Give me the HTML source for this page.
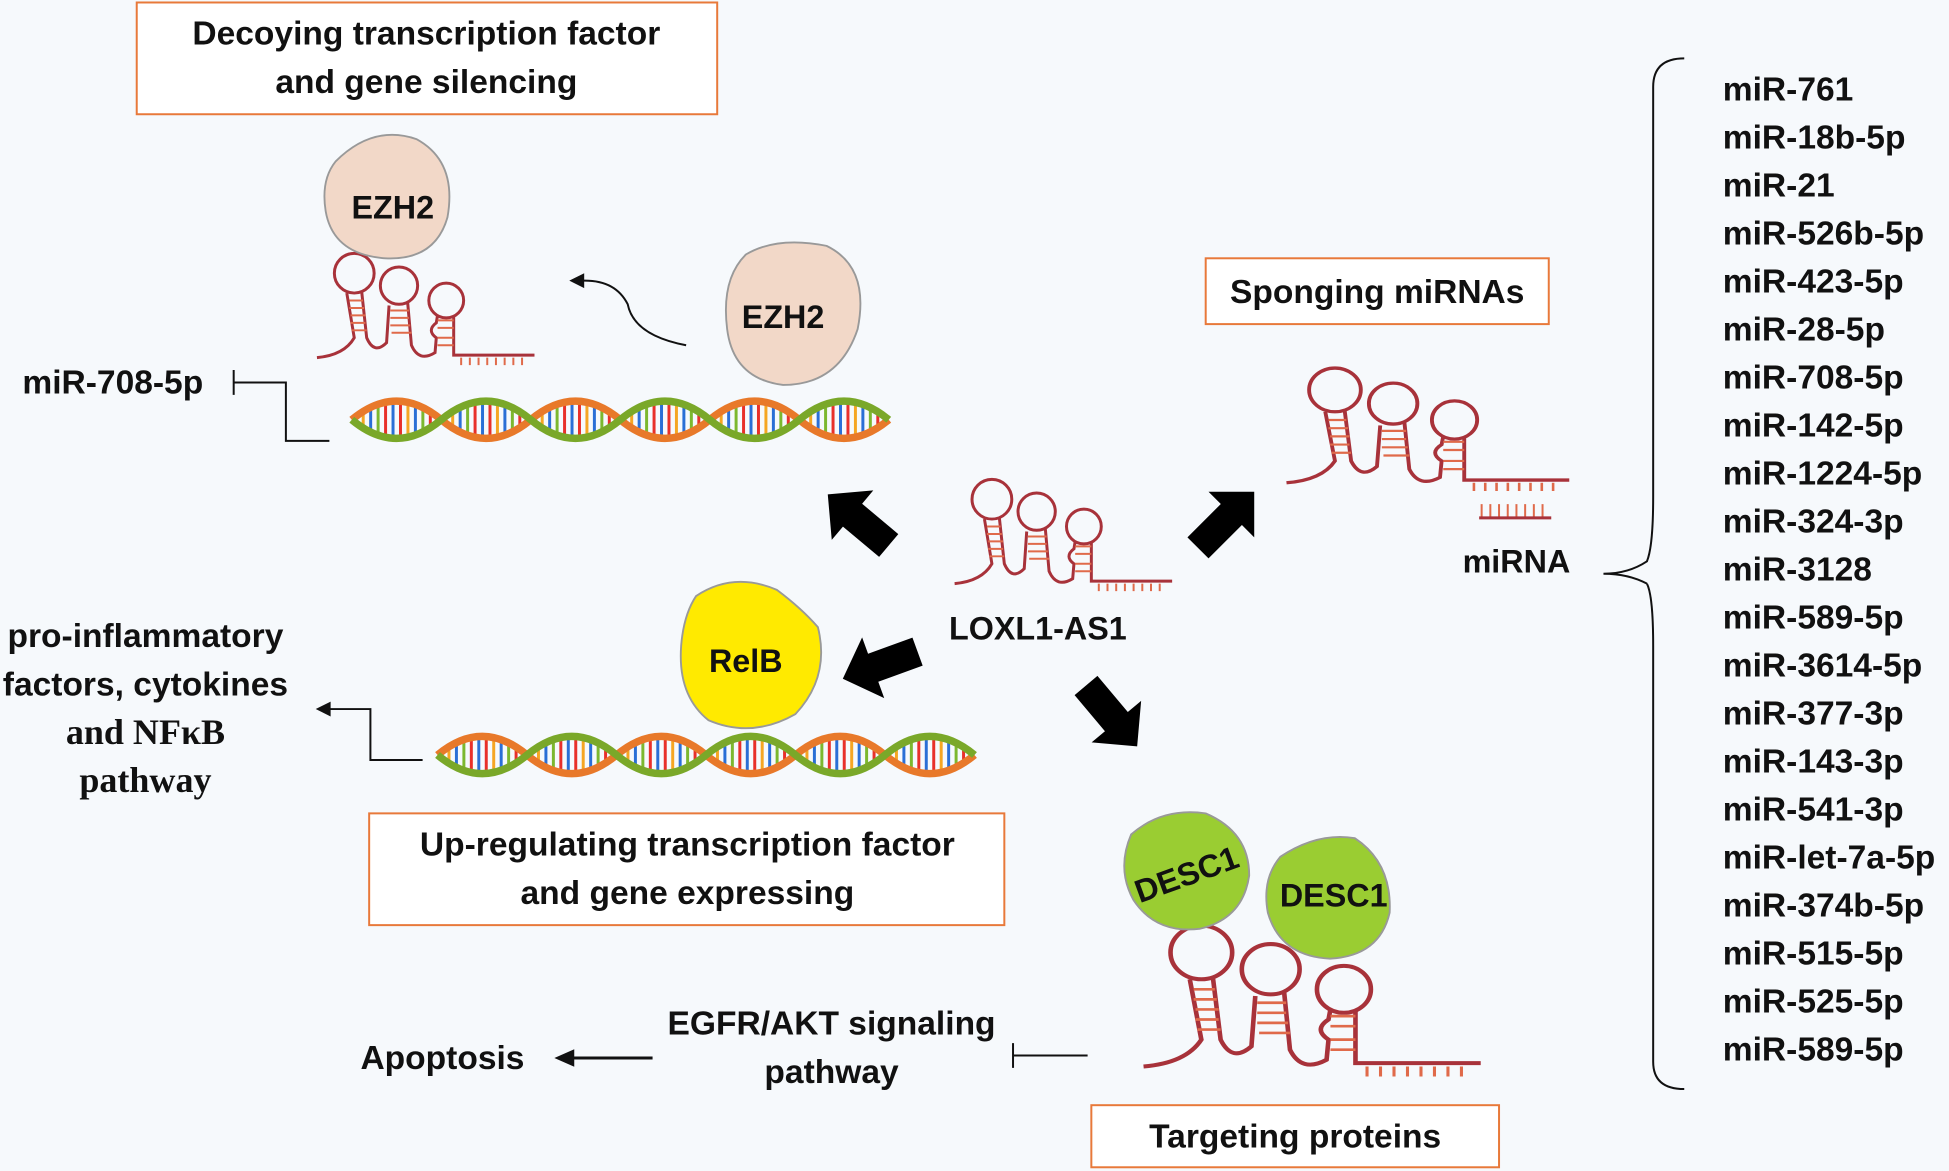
<!DOCTYPE html>
<html><head><meta charset="utf-8">
<style>
html,body{margin:0;padding:0;background:#f6f9fc;}
svg{display:block;}
text{font-family:"Liberation Sans",sans-serif;font-weight:bold;fill:#111;}
.serif{font-family:"Liberation Serif",serif;}
</style></head><body>
<svg id="s" width="1949" height="1171" viewBox="0 0 1568 943" preserveAspectRatio="none" xmlns="http://www.w3.org/2000/svg">
<defs>
<g id="rna" fill="none" stroke="#a8323a" stroke-width="2.4">
  <path d="M0,88 Q22,86 30,72 L24,36"/>
  <circle cx="30" cy="20" r="16"/>
  <path d="M36,35 L40,72 Q46,86 56,76 L58,46"/>
  <circle cx="66" cy="30" r="15"/>
  <path d="M73,44 L76,78 Q82,92 95,84 L96,72 Q88,66 96,60 L97,54"/>
  <circle cx="104" cy="42" r="14"/>
  <path d="M110,55 L110,86 L175,86"/>
  <g stroke="#e06a4a" stroke-width="1.6">
    <path d="M26,42h11M26,48h12M27,54h12M27,60h12M28,66h12"/>
    <path d="M59,50h15M59,56h15M59,62h16M60,68h16"/>
    <path d="M97,58h13M97,64h13M97,72h13M97,78h13"/>
    <path d="M116,88v6M123,88v6M130,88v6M137,88v6M144,88v6M151,88v6M158,88v6M165,88v6"/>
  </g>
</g>
<polygon id="barrow" points="-30,-12 8,-12 8,-26 34,0 8,26 8,12 -30,12" fill="#000"/>
<pattern id="rungs" patternUnits="userSpaceOnUse" width="36" height="80" y="-40">
  <rect x="2" y="0" width="2.4" height="80" fill="#e8302a"/>
  <rect x="8" y="0" width="2.4" height="80" fill="#f5a623"/>
  <rect x="14" y="0" width="2.4" height="80" fill="#2a6fd6"/>
  <rect x="20" y="0" width="2.4" height="80" fill="#7cb82f"/>
  <rect x="26" y="0" width="2.4" height="80" fill="#e8302a"/>
  <rect x="32" y="0" width="2.4" height="80" fill="#2a6fd6"/>
</pattern>
<clipPath id="lens">
  <path d="M0,0 Q36,-30 72,0 T144,0 T216,0 T288,0 T360,0 T432,0 Q396,-30 360,0 T288,0 T216,0 T144,0 T72,0 T0,0 Z"/>
</clipPath>
<g id="dna">
  <rect x="0" y="-40" width="432" height="80" fill="url(#rungs)" clip-path="url(#lens)"/>
  <path d="M0,0 Q36,-30 72,0 T144,0 T216,0 T288,0 T360,0 T432,0" fill="none" stroke="#e8792a" stroke-width="6"/>
  <path d="M0,0 Q36,30 72,0 T144,0 T216,0 T288,0 T360,0 T432,0" fill="none" stroke="#7aa829" stroke-width="6"/>
</g>
</defs>

<!-- boxes -->
<g fill="#fff" stroke="#e8793a" stroke-width="1.6">
<rect x="110" y="2" width="467" height="90"/>
<rect x="970" y="208" width="276" height="53"/>
<rect x="297" y="655" width="511" height="90"/>
<rect x="878" y="890" width="328" height="50"/>
</g>
<g font-size="27" text-anchor="middle">
<text x="343" y="36">Decoying transcription factor</text>
<text x="343" y="75">and gene silencing</text>
<text x="1108" y="244">Sponging miRNAs</text>
<text x="553" y="689">Up-regulating transcription factor</text>
<text x="553" y="728">and gene expressing</text>
<text x="1042" y="924">Targeting proteins</text>
</g>

<!-- DNA -->
<use href="#dna" transform="translate(283,338)"/>
<use href="#dna" transform="translate(352,608)"/>

<!-- RNAs -->
<use href="#rna" transform="translate(255,200)"/>
<use href="#rna" transform="translate(768,382)"/>
<use href="#rna" transform="translate(1035,292) scale(1.3,1.1)"/>
<use href="#rna" transform="translate(920,740) scale(1.55,1.35)"/>
<g stroke="#e06a4a" stroke-width="1.6"><path d="M1192,406v10M1199,406v10M1206,406v10M1213,406v10M1220,406v10M1227,406v10M1234,406v10M1241,406v10"/><path d="M1190,417h58" stroke="#a8323a" stroke-width="2.4"/></g>

<!-- proteins -->
<g stroke="#999" stroke-width="1.5">
<path d="M270,130 Q300,100 335,112 Q368,130 360,175 Q350,210 310,208 Q268,205 262,170 Q258,145 270,130Z" fill="#f2d8c8"/>
<path d="M600,205 Q625,190 665,198 Q700,215 690,265 Q675,310 630,310 Q590,305 585,265 Q580,225 600,205Z" fill="#f2d8c8"/>
<path d="M560,480 Q590,460 625,475 Q645,490 658,505 Q668,545 640,575 Q605,595 570,580 Q545,560 548,520 Q550,495 560,480Z" fill="#ffea00"/>
<path d="M910,672 Q935,650 970,655 Q1005,670 1005,705 Q1000,740 965,748 Q930,752 912,725 Q898,700 910,672Z" fill="#9acd32"/>
<path d="M1030,690 Q1060,670 1090,675 Q1120,695 1118,735 Q1110,770 1070,772 Q1030,770 1020,735 Q1015,708 1030,690Z" fill="#9acd32"/>
</g>
<g font-size="26" text-anchor="middle">
<text x="316" y="176">EZH2</text>
<text x="630" y="264">EZH2</text>
<text x="600" y="541">RelB</text>
<text x="955" y="713" transform="rotate(-20 955 705)">DESC1</text>
<text x="1073" y="730">DESC1</text>
<text x="835" y="515">LOXL1-AS1</text>
<text x="1220" y="461">miRNA</text>
</g>

<!-- block arrows -->
<use href="#barrow" transform="translate(692,420) rotate(-140)"/>
<use href="#barrow" transform="translate(985,420) rotate(-45)"/>
<use href="#barrow" transform="translate(710,535) rotate(160)"/>
<use href="#barrow" transform="translate(893,575) rotate(50)"/>

<!-- thin arrows -->
<g fill="none" stroke="#111" stroke-width="1.6">
<path d="M552,278 Q510,270 505,245 Q495,225 468,226"/>
<path d="M188,298v20M188,308h42v47h35"/>
<path d="M340,612h-42v-41h-34"/>
<path d="M815,840v20M815,850h60"/>
<path d="M525,852h-65" stroke-width="2.4"/>
<path d="M1290,462 Q1310,462 1325,452 Q1330,440 1330,400 L1330,70 Q1330,47 1355,47 M1325,470 Q1330,480 1330,520 L1330,855 Q1330,877 1355,877 M1290,462 Q1310,462 1325,470"/>
</g>
<g fill="#111">
<polygon points="458,226 470,220 470,232"/>
<polygon points="254,571 266,565 266,577"/>
<polygon points="446,852 462,845 462,859"/>
</g>

<!-- left texts -->
<g font-size="27">
<text x="18" y="317">miR-708-5p</text>
<text x="290" y="861">Apoptosis</text>
<text x="669" y="833" text-anchor="middle">EGFR/AKT signaling</text>
<text x="669" y="872" text-anchor="middle">pathway</text>
<text x="117" y="521" text-anchor="middle">pro-inflammatory</text>
<text x="117" y="560" text-anchor="middle">factors, cytokines</text>
<text x="117" y="599" text-anchor="middle" class="serif" font-size="29">and NFκB</text>
<text x="117" y="638" text-anchor="middle" class="serif" font-size="29">pathway</text>
</g>

<!-- miR list -->
<g font-size="27" id="mirs"></g>
<script>
var ns="http://www.w3.org/2000/svg";
var list=["miR-761","miR-18b-5p","miR-21","miR-526b-5p","miR-423-5p","miR-28-5p","miR-708-5p","miR-142-5p","miR-1224-5p","miR-324-3p","miR-3128","miR-589-5p","miR-3614-5p","miR-377-3p","miR-143-3p","miR-541-3p","miR-let-7a-5p","miR-374b-5p","miR-515-5p","miR-525-5p","miR-589-5p"];
var g=document.getElementById("mirs");
list.forEach(function(t,i){var e=document.createElementNS(ns,"text");e.setAttribute("x",1386);e.setAttribute("y",81+i*38.65);e.textContent=t;g.appendChild(e);});
</script>
</svg>
</body></html>
